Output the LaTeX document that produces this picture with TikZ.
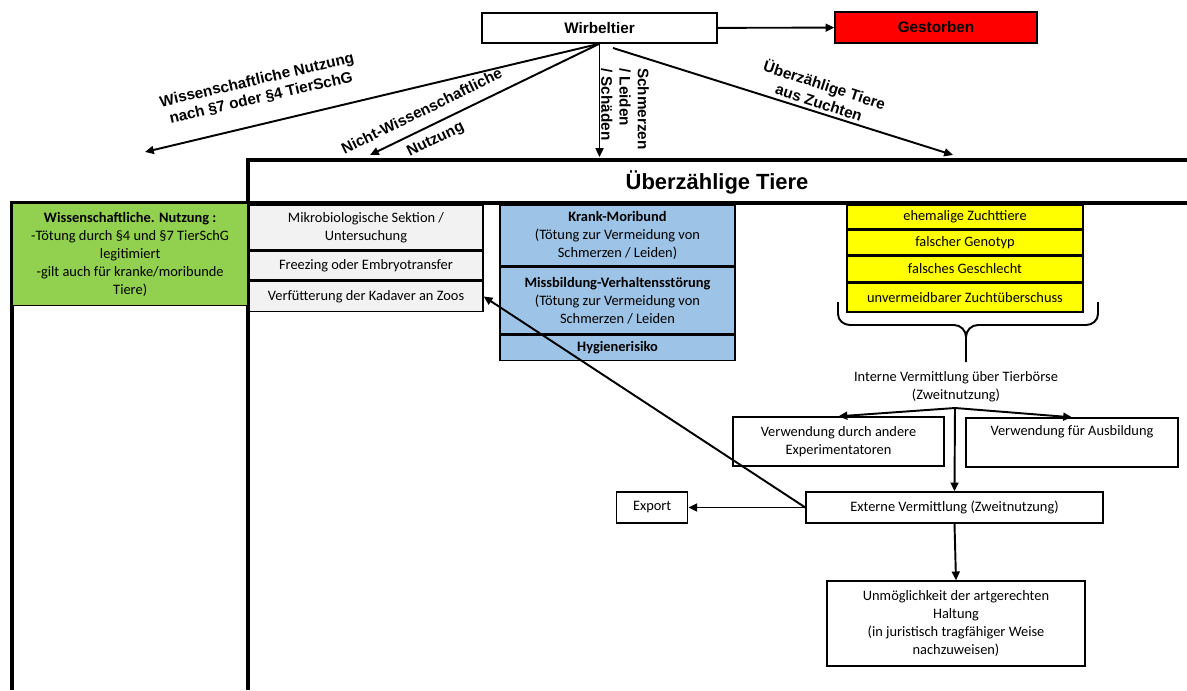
\documentclass[tikz,border=0pt]{standalone}
\usepackage{fontspec}
\setmainfont{Carlito}
\newfontfamily\lblfont{Liberation Sans}
\usetikzlibrary{arrows.meta, positioning}

\definecolor{deadred}{HTML}{FF0000}
\definecolor{sciencegreen}{HTML}{92D050}
\definecolor{cellgray}{HTML}{F2F2F2}
\definecolor{sickblue}{HTML}{9DC3E6}
\definecolor{breedyellow}{HTML}{FFFF00}

\begin{document}
\begin{tikzpicture}[
    x=0.02cm, y=-0.02cm,
    node distance=0pt,
    box/.style={rectangle, draw, line width=0.8pt, inner sep=1pt, align=center, font=\fontsize{8.2}{10.2}\selectfont},
    lbl/.style={font=\lblfont\bfseries\fontsize{8.7}{10.4}\selectfont, align=center},
    arrow/.style={-{Triangle[length=5pt, width=4.5pt]}, line width=1.1pt},
    frame/.style={line width=2.3pt},
]
    \useasboundingbox (0,0) rectangle (1187,690);

    % Top: Wirbeltier and Gestorben
    \node[box, lbl, draw, minimum width=4.7cm, minimum height=0.6cm] (wirbel) at (599.5,28) {Wirbeltier};
    \node[box, lbl, draw, fill=deadred, minimum width=4.04cm, minimum height=0.62cm] (gest) at (936,27.5) {Gestorben};
    \draw[arrow] (wirbel) -- (gest);

    % Branches from Wirbeltier
    \coordinate (wissEnd) at (145,152);
    \coordinate (nichtEnd) at (370,155);
    \coordinate (schmEnd) at (599.5,157);
    \coordinate (zuchtStart) at (613,48);
    \coordinate (zuchtEnd) at (953,155);
    \draw[arrow] (wirbel.south) -- (wissEnd);
    \draw[arrow] (wirbel.south) -- (nichtEnd);
    \draw[arrow] (wirbel.south) -- (schmEnd);
    \draw[arrow] (zuchtStart) -- (zuchtEnd);

    \node[lbl, rotate=13] (wissLbl) at (259,89) {Wissenschaftliche Nutzung\\nach §7 oder §4 TierSchG};
    \node[lbl, rotate=26] (nichtLbl) at (429,126) {Nicht-Wissenschaftliche\\[7pt]Nutzung};
    \node[lbl, rotate=-90, align=left] (schmLbl) at (625,109) {Schmerzen\\/ Leiden\\/ Schäden};
    \node[lbl, rotate=-18] (zuchtLbl) at (822,93) {Überzählige Tiere\\aus Zuchten};

    % Frame of the table
    \draw[frame] (248,690) -- (248,160) -- (1187,160);
    \draw[frame] (12,690) -- (12,203) -- (1187,203);
    \node[font=\lblfont\bfseries\fontsize{12.5}{14}\selectfont] (head) at (717,182) {Überzählige Tiere};

    % Left column
    \node[box, fill=sciencegreen, minimum width=4.7cm, minimum height=2.04cm, anchor=north west] (wiss) at (12,203)
        {\textbf{Wissenschaftliche. Nutzung :}\\-Tötung durch §4 und §7 TierSchG\\legitimiert\\-gilt auch für kranke/moribunde\\Tiere)};

    % Gray column
    \node[box, fill=cellgray, minimum width=4.68cm, minimum height=0.88cm, anchor=north] (mikro) at (366,205) {Mikrobiologische Sektion /\\Untersuchung};
    \node[box, fill=cellgray, minimum width=4.68cm, minimum height=0.58cm, below=of mikro] (freez) {Freezing oder Embryotransfer};
    \node[box, fill=cellgray, minimum width=4.68cm, minimum height=0.6cm, below=of freez] (verf) {Verfütterung der Kadaver an Zoos};

    % Blue column
    \node[box, fill=sickblue, minimum width=4.7cm, minimum height=1.2cm, anchor=north] (krank) at (617.5,205)
        {\textbf{Krank-Moribund}\\(Tötung zur Vermeidung von\\Schmerzen / Leiden)};
    \node[box, fill=sickblue, minimum width=4.7cm, minimum height=1.34cm, below=of krank] (missb)
        {\textbf{Missbildung-Verhaltensstörung}\\(Tötung zur Vermeidung von\\Schmerzen / Leiden};
    \node[box, fill=sickblue, minimum width=4.7cm, minimum height=0.5cm, below=of missb] (hyg) {\textbf{Hygienerisiko}};

    % Yellow column
    \node[box, fill=breedyellow, minimum width=4.72cm, minimum height=0.46cm, anchor=north] (ehem) at (965,205) {ehemalige Zuchttiere};
    \node[box, fill=breedyellow, minimum width=4.72cm, minimum height=0.5cm, below=of ehem] (geno) {falscher Genotyp};
    \node[box, fill=breedyellow, minimum width=4.72cm, minimum height=0.5cm, below=of geno] (geschl) {falsches Geschlecht};
    \node[box, fill=breedyellow, minimum width=4.72cm, minimum height=0.58cm, below=of geschl] (ueber) {unvermeidbarer Zuchtüberschuss};

    % Brace under the yellow column
    \draw[line width=1.1pt] (838,302) -- (838,314) to[out=-90, in=180] (850,325) -- (954,325) to[out=0, in=90] (966,337) -- (966,362);
    \draw[line width=1.1pt] (1098,302) -- (1098,314) to[out=-90, in=0] (1086,325) -- (978,325) to[out=180, in=90] (966,337);

    % Second use
    \node[font=\fontsize{8.2}{10.2}\selectfont, align=center] (intern) at (956,387) {Interne Vermittlung über Tierbörse\\(Zweitnutzung)};
    \coordinate (split) at (955,408);
    \node[box, minimum width=4.22cm, minimum height=0.98cm] (andere) at (838.5,441.5) {Verwendung durch andere\\Experimentatoren};
    \node[box, minimum width=4.24cm, minimum height=0.98cm] (ausb) at (1072,442.5) {Verwendung für Ausbildung\\\strut};
    \node[box, minimum width=5.94cm, minimum height=0.62cm] (extern) at (954.5,507.5) {Externe Vermittlung (Zweitnutzung)};
    \node[box, minimum width=1.42cm, minimum height=0.62cm, left=2.34cm of extern] (export) {Export};
    \node[box, minimum width=5.16cm, minimum height=1.7cm] (unm) at (956,623.5)
        {Unmöglichkeit der artgerechten\\Haltung\\(in juristisch tragfähiger Weise\\nachzuweisen)};

    \draw[arrow] (split) -- (andere.north);
    \draw[arrow] (split) -- (ausb.north);
    \draw[arrow] (split) -- (extern.north);
    \draw[arrow] (extern.west) -- (export.east);
    \draw[arrow] (extern.west) -- (verf.east);
    \draw[arrow] (extern.south) -- (unm.north);

\end{tikzpicture}
\end{document}
